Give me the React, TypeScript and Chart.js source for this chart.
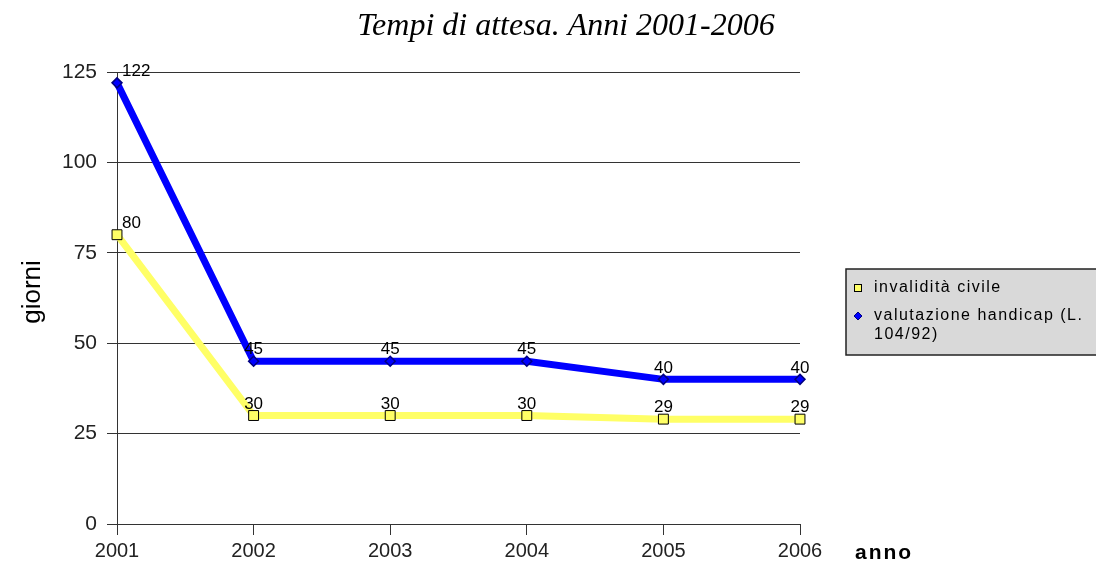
import React, { useEffect, useRef } from "react";
import { Chart, registerables } from "chart.js";

Chart.register(...registerables);

const years = ["2001", "2002", "2003", "2004", "2005", "2006"];
const invaliditaCivile = [80, 30, 30, 30, 29, 29];
const valutazioneHandicap = [122, 45, 45, 45, 40, 40];
const seriesLabels = ["invalidità civile", "valutazione handicap (L. 104/92)"];
const legendLines = [["invalidità civile"], ["valutazione handicap (L.", "104/92)"]];
const titleText = "Tempi di attesa. Anni 2001-2006";
const yTitle = "giorni";
const xTitle = "anno";
const yMin = 0;
const yMax = 125;
const yStep = 25;

const SANS = "'Liberation Sans', Arial, sans-serif";
const SERIF = "'Liberation Serif', 'Times New Roman', serif";

const decorPlugin = {
  id: "decor",
  afterDatasetsDraw(chart: any) {
    const ctx = chart.ctx;
    ctx.save();
    ctx.font = `17px ${SANS}`;
    ctx.fillStyle = "#000";
    ctx.textBaseline = "bottom";
    chart.data.datasets.forEach((ds: any, di: number) => {
      const meta = chart.getDatasetMeta(di);
      meta.data.forEach((pt: any, i: number) => {
        const v = ds.data[i];
        if (i === 0) {
          ctx.textAlign = "left";
          ctx.fillText(String(v), pt.x + 5, pt.y - 3);
        } else {
          ctx.textAlign = "center";
          ctx.fillText(String(v), pt.x, pt.y - 3);
        }
      });
    });
    ctx.restore();
  },
  afterDraw(chart: any) {
    const ctx = chart.ctx;
    const area = chart.chartArea;
    ctx.save();
    // title
    ctx.font = `italic 32px ${SERIF}`;
    ctx.fillStyle = "#000";
    ctx.textAlign = "center";
    ctx.textBaseline = "alphabetic";
    ctx.fillText(titleText, 566, 35);

    // y title
    ctx.save();
    ctx.translate(33, 292);
    ctx.rotate(-Math.PI / 2);
    ctx.font = `26px ${SANS}`;
    ctx.textAlign = "center";
    ctx.textBaseline = "middle";
    ctx.fillText(yTitle, 0, 0);
    ctx.restore();

    // x title
    ctx.font = `bold 21px ${SANS}`;
    (ctx as any).letterSpacing = "2px";
    ctx.textAlign = "left";
    ctx.textBaseline = "middle";
    ctx.fillText(xTitle, area.right + 55, 553);
    (ctx as any).letterSpacing = "0px";

    // legend
    const lx = 846, ly = 269, lw = 260, lh = 86;
    ctx.fillStyle = "#d9d9d9";
    ctx.fillRect(lx, ly, lw, lh);
    ctx.strokeStyle = "#222";
    ctx.lineWidth = 1.5;
    ctx.strokeRect(lx, ly, lw, lh);

    ctx.font = `16px ${SANS}`;
    (ctx as any).letterSpacing = "1.5px";
    ctx.textBaseline = "middle";
    ctx.textAlign = "left";
    // item 1: square
    ctx.fillStyle = "#ffff66";
    ctx.fillRect(854, 284, 8, 8);
    ctx.strokeStyle = "#000";
    ctx.lineWidth = 1;
    ctx.strokeRect(854.5, 284.5, 7, 7);
    ctx.fillStyle = "#000";
    ctx.fillText(legendLines[0][0], 874, 288);
    // item 2: diamond
    ctx.beginPath();
    ctx.moveTo(858, 312);
    ctx.lineTo(862, 316);
    ctx.lineTo(858, 320);
    ctx.lineTo(854, 316);
    ctx.closePath();
    ctx.fillStyle = "#0000ff";
    ctx.fill();
    ctx.strokeStyle = "#000080";
    ctx.stroke();
    ctx.fillStyle = "#000";
    ctx.fillText(legendLines[1][0], 874, 316);
    ctx.fillText(legendLines[1][1], 874, 335);
    (ctx as any).letterSpacing = "0px";
    ctx.restore();
  },
};

export default function App() {
  const ref = useRef<HTMLCanvasElement | null>(null);
  useEffect(() => {
    if (!ref.current) return;
    const chart = new Chart(ref.current, {
      type: "line",
      data: {
        labels: years,
        datasets: [
          {
            label: seriesLabels[0],
            data: invaliditaCivile,
            borderColor: "#ffff66",
            backgroundColor: "#ffff66",
            borderWidth: 7,
            tension: 0,
            pointStyle: "rect",
            pointRadius: 7,
            pointBackgroundColor: "#ffff66",
            pointBorderColor: "#000",
            pointBorderWidth: 1,
            clip: false as any,
          },
          {
            label: seriesLabels[1],
            data: valutazioneHandicap,
            borderColor: "#0000ff",
            backgroundColor: "#0000ff",
            borderWidth: 7,
            tension: 0,
            pointStyle: "rectRot",
            pointRadius: 5,
            pointBackgroundColor: "#0000ff",
            pointBorderColor: "#000080",
            pointBorderWidth: 1.5,
            clip: false as any,
          },
        ],
      },
      options: {
        responsive: false,
        animation: false,
        layout: { padding: { left: 0, right: 296, top: 72, bottom: 0 } },
        plugins: {
          legend: { display: false },
          title: { display: false },
          tooltip: { enabled: false },
        },
        scales: {
          x: {
            type: "category",
            offset: false,
            grid: {
              display: true,
              drawOnChartArea: false,
              drawTicks: true,
              tickLength: 11,
              color: "#333",
            },
            border: { color: "#333", width: 1 },
            ticks: {
              color: "#222",
              font: { size: 20, family: SANS },
              padding: 4,
              maxRotation: 0,
              autoSkip: false,
            },
            afterFit: (s: any) => {
              s.height = 45;
            },
          },
          y: {
            min: yMin,
            max: yMax,
            grid: { color: "#333", tickLength: 10 },
            border: { color: "#333", width: 1 },
            ticks: {
              stepSize: yStep,
              color: "#222",
              font: { size: 21, family: SANS },
              padding: 10,
            },
            afterFit: (s: any) => {
              s.width = 117;
            },
          },
        },
      },
      plugins: [decorPlugin],
    });
    return () => chart.destroy();
  }, []);
  return (
    <div style={{ position: "fixed", left: 0, top: 0, width: 1096, height: 569, background: "#fff" }}>
      <canvas ref={ref} width={1096} height={569} />
    </div>
  );
}
